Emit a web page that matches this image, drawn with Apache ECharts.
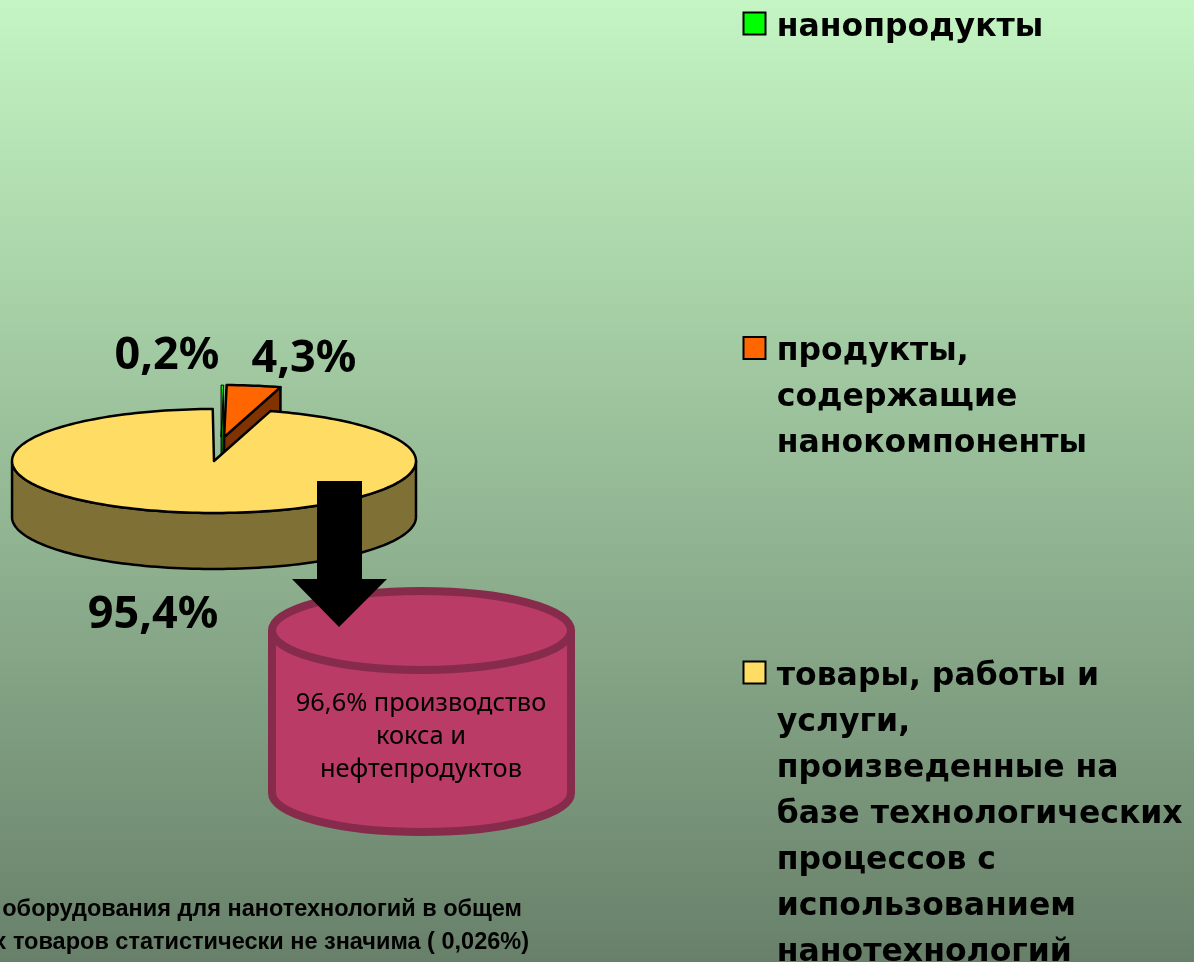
<!DOCTYPE html>
<html>
<head>
	<meta charset="utf-8">
	<style>
		html, body { margin: 0; padding: 0; overflow: hidden; }
		#chart { width: 1194px; height: 962px; }
	</style>
</head>
<body>
	<div id="chart"></div>
	<script src="https://cdn.jsdelivr.net/npm/echarts@6/dist/echarts.min.js"></script>
	<script>
	var categories = [
		'нанопродукты',
		'продукты,\nсодержащие\nнанокомпоненты',
		'товары, работы и\nуслуги,\nпроизведенные на\nбазе технологических\nпроцессов с\nиспользованием\nнанотехнологий'
	];
	var shareValues = [0.2, 4.3, 95.4];
	var shareLabels = ['0,2%', '4,3%', '95,4%'];
	var cokeLines = '96,6% производство\nкокса и\nнефтепродуктов';
	var noteLines = ['оборудования для нанотехнологий в общем', 'х товаров статистически не значима ( 0,026%)'];

	var topColors = ['#00ff00', '#ff6600', '#ffdc64'];
	var sideColors = ['#008000', '#803300', '#7f7035'];
	// сдвиг вынутых секторов, в единицах радиуса
	var pull = [[0.035, 0.46], [0.05, 0.46], [0, 0]];
	var depth = 56;
	var sans = '"DejaVu Sans"';

	function angleOf(index) {
		var sum = 0;
		for (var i = 0; i < index; i++) sum += shareValues[i];
		return sum / 100 * 2 * Math.PI;
	}

	function renderSlice(params, api) {
		var i = params.seriesIndex;
		var a0 = angleOf(i);
		var a1 = a0 + api.value(0) / 100 * 2 * Math.PI;
		var dx = pull[i][0], dy = pull[i][1];
		var rim = [];
		var steps = Math.max(2, Math.ceil((a1 - a0) / 0.03));
		for (var s = 0; s <= steps; s++) {
			var a = a0 + (a1 - a0) * s / steps;
			rim.push(api.coord([dx + Math.sin(a), dy + Math.cos(a)]));
		}
		var apex = api.coord([dx, dy]);
		// у самого узкого сектора линия тоньше, иначе не видно заливки
		var line = { stroke: '#000', lineWidth: i === 0 ? 1 : 2.5, lineJoin: 'round' };
		var children = [];

		// видимая боковая стенка: только передняя половина обода
		var wall = rim.filter(function (p, k) {
			var a = a0 + (a1 - a0) * k / steps;
			return a >= Math.PI / 2 && a <= Math.PI * 1.5;
		});
		if (wall.length) {
			var low = wall.map(function (p) { return [p[0], p[1] + depth]; }).reverse();
			children.push({
				type: 'polygon',
				shape: { points: wall.concat(low) },
				style: Object.assign({ fill: sideColors[i] }, line)
			});
		}
		// срез сектора со стороны конечного угла
		if (i < 2) {
			var end = rim[rim.length - 1];
			children.push({
				type: 'polygon',
				shape: { points: [apex, end, [end[0], end[1] + depth], [apex[0], apex[1] + depth]] },
				style: Object.assign({ fill: sideColors[i] }, line)
			});
		}
		children.push({
			type: 'polygon',
			shape: { points: [apex].concat(rim) },
			style: Object.assign({ fill: topColors[i] }, line)
		});
		return { type: 'group', children: children };
	}

	var series = categories.map(function (name, i) {
		return {
			name: name,
			type: 'custom',
			data: [[shareValues[i], 0]],
			renderItem: renderSlice,
			silent: true,
			itemStyle: { color: topColors[i], borderColor: '#000', borderWidth: 2.5 }
		};
	});

	var lineH = 46;
	// середина значка по вертикали
	var iconMiddles = [23.5, 348, 672.5];
	var iconLift = 4;
	var legends = categories.map(function (name, i) {
		var count = name.split('\n').length;
		return {
			data: [name],
			// квадрат 22x22 и пустая точка ниже него: текст садится чуть ниже середины значка
			icon: 'path://M0 0h22v22h-22z M0 30h0',
			left: 742.5,
			// значок стоит по центру текста, поэтому сверху добавлены пустые строки
			top: iconMiddles[i] + iconLift - (2 * count - 1) * lineH / 2,
			orient: 'vertical',
			selectedMode: false,
			itemWidth: 22,
			itemHeight: 30,
			itemGap: 0,
			padding: 0,
			formatter: function (n) {
				var lines = n.split('\n').map(function (s) { return '\u2009' + s; });
				return new Array(count).join('\n') + lines.join('\n');
			},
			textStyle: {
				fontFamily: sans,
				fontWeight: 'bold',
				fontSize: 31.5,
				lineHeight: lineH,
				color: '#000'
			}
		};
	});

	function bigText(text, x, y) {
		return {
			type: 'text', x: x, y: y, z: 20,
			style: { text: text, fill: '#000', font: 'bold 45px "Noto Sans"', align: 'center', verticalAlign: 'middle' }
		};
	}

	var tankFill = '#b93b66', tankEdge = '#862b4b';
	var chart = echarts.init(document.getElementById('chart'));
	chart.setOption({
		animation: false,
		backgroundColor: new echarts.graphic.LinearGradient(0, 0, 0, 1, [
			{ offset: 0, color: '#c4f5c3' },
			{ offset: 1, color: '#68806a' }
		]),
		grid: { left: 12, top: 409, width: 404, height: 104 },
		xAxis: { type: 'value', min: -1, max: 1, show: false },
		yAxis: { type: 'value', min: -1, max: 1, show: false },
		legend: legends,
		series: series,
		graphic: [
			// цилиндр
			{
				type: 'ellipse', z: 10,
				shape: { cx: 421.5, cy: 793, rx: 149.5, ry: 39 },
				style: { fill: tankFill, stroke: tankEdge, lineWidth: 8 }
			},
			{
				type: 'rect', z: 10,
				shape: { x: 272, y: 630, width: 299, height: 163 },
				style: { fill: tankFill }
			},
			{ type: 'line', z: 10, shape: { x1: 272, y1: 630, x2: 272, y2: 793 }, style: { stroke: tankEdge, lineWidth: 8 } },
			{ type: 'line', z: 10, shape: { x1: 571, y1: 630, x2: 571, y2: 793 }, style: { stroke: tankEdge, lineWidth: 8 } },
			{
				type: 'ellipse', z: 11,
				shape: { cx: 421.5, cy: 630.5, rx: 149.5, ry: 39.5 },
				style: { fill: tankFill, stroke: tankEdge, lineWidth: 8 }
			},
			{
				type: 'text', x: 421, y: 737, z: 12,
				style: { text: cokeLines, fill: '#000', font: '25.4px "Noto Sans"', lineHeight: 33, align: 'center', verticalAlign: 'middle' }
			},
			// стрелка
			{
				type: 'polygon', z: 15,
				shape: { points: [[317, 481], [362, 481], [362, 579], [387, 579], [339, 627], [292, 579], [317, 579]] },
				style: { fill: '#000' }
			},
			bigText(shareLabels[0], 167, 356),
			bigText(shareLabels[1], 304, 359),
			bigText(shareLabels[2], 153, 615),
			{
				type: 'text', x: 522, y: 910, z: 12,
				style: { text: noteLines[0], fill: '#000', font: 'bold 23.5px "Liberation Sans"', align: 'right', verticalAlign: 'middle' }
			},
			{
				type: 'text', x: 529, y: 943, z: 12,
				style: { text: noteLines[1], fill: '#000', font: 'bold 23.5px "Liberation Sans"', align: 'right', verticalAlign: 'middle' }
			}
		]
	});
	</script>
</body>
</html>
